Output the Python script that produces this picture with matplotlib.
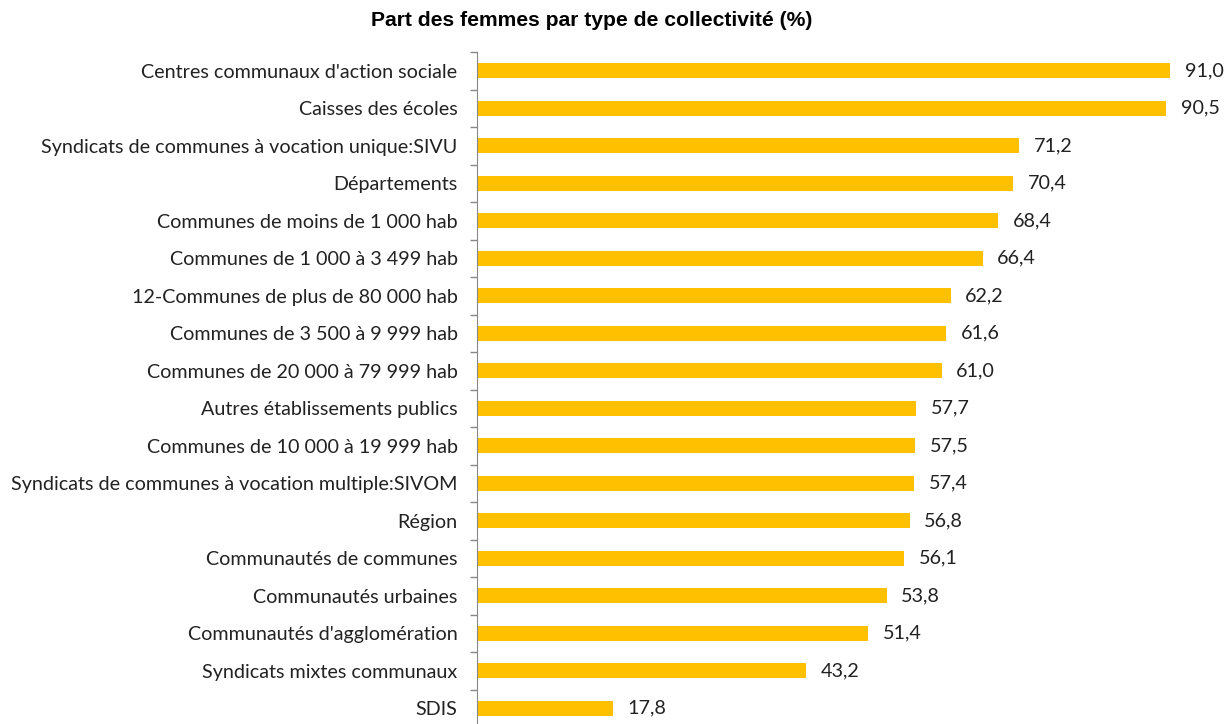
import numpy as np
import matplotlib.pyplot as plt

# données (du haut vers le bas)
categories = [
    "Centres communaux d'action sociale",
    "Caisses des écoles",
    "Syndicats de communes à vocation unique:SIVU",
    "Départements",
    "Communes de moins de 1 000 hab",
    "Communes de 1 000 à 3 499 hab",
    "12-Communes de plus de 80 000 hab",
    "Communes de 3 500 à 9 999 hab",
    "Communes de 20 000 à 79 999 hab",
    "Autres établissements publics",
    "Communes de 10 000 à 19 999 hab",
    "Syndicats de communes à vocation multiple:SIVOM",
    "Région",
    "Communautés de communes",
    "Communautés urbaines",
    "Communautés d'agglomération",
    "Syndicats mixtes communaux",
    "SDIS",
]
values = [91.0, 90.5, 71.2, 70.4, 68.4, 66.4, 62.2, 61.6, 61.0,
          57.7, 57.5, 57.4, 56.8, 56.1, 53.8, 51.4, 43.2, 17.8]

plt.rcParams['font.family'] = ['Lato', 'DejaVu Sans']

fig = plt.figure(figsize=(12.28, 7.24), dpi=100)
ax = fig.add_axes([477 / 1228, 1 - 727 / 724, 751 / 1228, 675 / 724])

y = np.arange(len(categories))
ax.barh(y, values, height=0.4, color='#FFC000')
for yi, v in zip(y, values):
    ax.text(v + 1.9, yi, f"{v:.1f}".replace('.', ','), va='center', ha='left',
            fontsize=14.2, color='#222222')

ax.set_xlim(0, 98.6)
ax.set_ylim(len(categories) - 0.5, -0.5)
ax.set_yticks(y)
ax.set_yticklabels(categories, fontsize=14.2, color='#222222')
ax.set_yticks(np.arange(len(categories) + 1) - 0.5, minor=True)
ax.tick_params(axis='y', which='major', length=0, pad=14)
ax.tick_params(axis='y', which='minor', length=5, color='#888888', width=1)
ax.set_xticks([])
for side in ['top', 'right', 'bottom']:
    ax.spines[side].set_visible(False)
ax.spines['left'].set_color('#888888')

fig.text(592 / 1228, 1 - 20 / 724, "Part des femmes par type de collectivité (%)",
         ha='center', va='center', fontsize=15.2, fontweight='bold',
         family=['Liberation Sans', 'DejaVu Sans'])

fig.savefig('out.png', dpi=100)
